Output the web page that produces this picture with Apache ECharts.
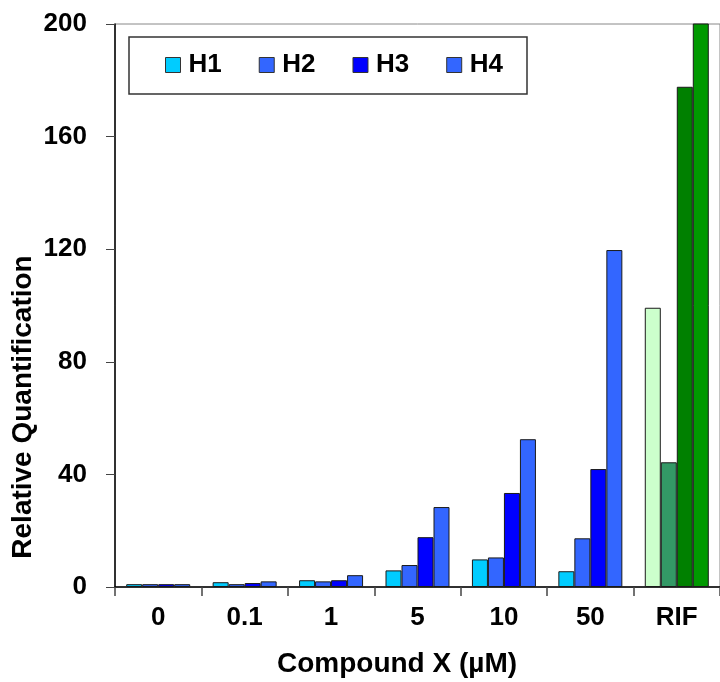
<!DOCTYPE html>
<html>
<head>
<meta charset="utf-8">
<script src="https://cdn.jsdelivr.net/npm/echarts@6/dist/echarts.min.js"></script>
<style>
  html, body { margin: 0; padding: 0; background: #fff; }
  #chart { width: 720px; height: 682px; }
</style>
</head>
<body>
<div id="chart"></div>
<script>
// Concentrations of compound X, plus the rifampicin (RIF) control
const categories = ['0', '0.1', '1', '5', '10', '50', 'RIF'];
const seriesNames = ['H1', 'H2', 'H3', 'H4'];

// Relative quantification per donor
const h1 = [1.0, 1.7, 2.4, 5.9, 9.8, 5.6, 99.2];
const h2 = [1.0, 1.0, 2.0, 7.8, 10.5, 17.3, 44.3];
const h3 = [1.0, 1.4, 2.4, 17.7, 33.4, 41.9, 177.7];
const h4 = [1.0, 2.0, 4.2, 28.4, 52.5, 119.7, 230];

const yTicks = [0, 40, 80, 120, 160, 200];

const blueColors = ['#00ccff', '#3366ff', '#0000ff', '#3366ff'];
const rifColors = ['#ccffcc', '#339966', '#008000', '#009900'];
const FONT = '"Liberation Sans", Arial, sans-serif';

const chart = echarts.init(document.getElementById('chart'), null, { renderer: 'canvas' });

const allValues = [h1, h2, h3, h4];
const series = allValues.map((vals, i) => ({
  name: seriesNames[i],
  type: 'bar',
  barWidth: 16,
  barGap: '0%',
  clip: true,
  itemStyle: { color: blueColors[i], borderColor: '#1a1a1a', borderWidth: 1 },
  data: vals.map((v, j) => j === categories.length - 1
    ? { value: v, itemStyle: { color: rifColors[i], borderColor: '#1a1a1a', borderWidth: 1 } }
    : v)
}));

chart.setOption({
  animation: false,
  backgroundColor: '#fff',
  textStyle: { fontFamily: FONT },
  grid: {
    left: 115, top: 24, width: 610, height: 563,
    show: true, borderColor: '#888', borderWidth: 1, backgroundColor: 'transparent'
  },
  legend: {
    data: seriesNames,
    left: 165,
    top: 52,
    padding: 0,
    itemWidth: 15,
    itemHeight: 15,
    itemGap: 37,
    icon: 'rect',
    itemStyle: { borderColor: '#333', borderWidth: 1 },
    textStyle: { fontFamily: FONT, fontWeight: 'bold', fontSize: 26, color: '#000', lineHeight: 26, padding: [0, 0, 0, 3] }
  },
  xAxis: {
    type: 'category',
    data: categories,
    axisLine: { lineStyle: { color: '#000', width: 1.5 } },
    axisTick: { show: true, length: 9, alignWithLabel: false, lineStyle: { color: '#444', width: 1.5 } },
    axisLabel: { fontFamily: FONT, fontWeight: 'bold', fontSize: 26, color: '#000', margin: 18 }
  },
  yAxis: {
    type: 'value',
    min: yTicks[0],
    max: yTicks[yTicks.length - 1],
    interval: 40,
    axisLine: { show: true, lineStyle: { color: '#000', width: 1.5 } },
    axisTick: { show: true, length: 9, lineStyle: { color: '#444', width: 1 } },
    splitLine: { show: false },
    axisLabel: { fontFamily: FONT, fontWeight: 'bold', fontSize: 26, color: '#000', margin: 28 }
  },
  graphic: [
    {
      type: 'rect', z: 0,
      shape: { x: 129, y: 37, width: 398, height: 57 },
      style: { fill: '#fff', stroke: '#333', lineWidth: 1.5 }
    },
    {
      type: 'text', z: 10,
      x: 23, y: 407, rotation: Math.PI / 2,
      style: {
        text: 'Relative Quantification', fill: '#000',
        font: 'bold 28px ' + FONT, align: 'center', verticalAlign: 'middle'
      }
    },
    {
      type: 'text', z: 10,
      x: 397, y: 664,
      style: {
        text: 'Compound X (µM)', fill: '#000',
        font: 'bold 28px ' + FONT, align: 'center', verticalAlign: 'middle'
      }
    }
  ],
  series: series
});
</script>
</body>
</html>
